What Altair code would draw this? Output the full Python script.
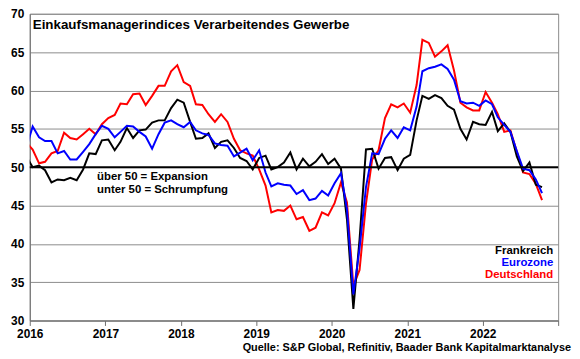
import altair as alt
import pandas as pd

# Monthly values, Dec 2015 .. Oct 2022 (83 months)
frankreich = [51.4,
    50.0, 50.2, 49.6, 48.0, 48.4, 48.3, 48.6, 48.3, 49.7, 51.8, 51.7, 53.5,
    53.6, 52.2, 53.3, 55.1, 53.8, 54.8, 54.9, 55.8, 56.1, 56.1, 57.7, 58.8,
    58.4, 55.9, 53.7, 53.8, 54.4, 52.5, 53.3, 53.5, 52.5, 51.2, 50.8, 49.7,
    51.2, 51.5, 49.7, 50.0, 50.6, 51.9, 49.7, 51.1, 50.1, 50.7, 51.7, 50.4,
    51.1, 49.8, 43.2, 31.5, 40.6, 52.3, 52.4, 49.8, 51.2, 51.3, 49.6, 51.1,
    51.6, 56.1, 59.3, 58.9, 59.4, 59.0, 58.0, 57.5, 55.0, 53.6, 55.9, 55.6,
    55.5, 57.2, 54.7, 55.7, 54.6, 51.4, 49.5, 50.6, 47.7, 47.4]

eurozone = [52.5,
    55.3, 53.9, 53.4, 53.4, 51.8, 52.1, 51.0, 51.0, 52.0, 53.0, 54.3, 55.4,
    55.0, 53.9, 54.6, 55.4, 55.3, 54.6, 54.0, 52.4, 54.3, 55.8, 56.1, 55.6,
    55.2, 55.9, 54.8, 54.4, 54.2, 53.1, 52.9, 52.8, 51.4, 51.9, 52.4, 50.9,
    52.2, 49.3, 47.5, 47.9, 47.7, 47.6, 46.5, 47.0, 45.7, 45.9, 46.9, 46.3,
    47.9, 49.2, 44.5, 33.4, 39.4, 47.4, 51.8, 51.7, 53.7, 54.8, 53.8, 55.2,
    54.8, 57.9, 62.5, 62.9, 63.1, 63.4, 62.8, 61.4, 58.6, 58.3, 58.4, 58.0,
    58.7, 58.2, 56.5, 55.5, 54.6, 52.1, 49.8, 49.6, 48.4, 46.6]

deutschland = [53.2,
    52.3, 50.5, 50.7, 51.8, 52.1, 54.5, 53.8, 53.6, 54.3, 55.0, 54.3, 55.6,
    56.4, 56.8, 58.3, 58.2, 59.5, 59.6, 58.1, 59.3, 60.6, 60.6, 62.5, 63.3,
    61.1, 60.6, 58.2, 58.1, 56.9, 55.9, 56.9, 55.9, 53.7, 52.2, 51.8, 51.5,
    49.7, 47.6, 44.1, 44.4, 44.3, 45.0, 43.2, 43.5, 41.7, 42.1, 44.1, 43.7,
    45.3, 48.0, 45.4, 34.5, 36.6, 45.2, 51.0, 52.2, 56.4, 58.2, 57.8, 58.3,
    57.1, 60.7, 66.6, 66.2, 64.4, 65.1, 65.9, 62.6, 58.4, 57.8, 57.4, 57.4,
    59.8, 58.4, 56.9, 54.6, 54.8, 52.0, 49.3, 49.1, 47.8, 45.7]

dates = ["2015-12-15"] + [f"{y}-{m:02d}-15" for y in range(2016, 2023) for m in range(1, 13)]
dates = dates[:len(frankreich)]

y_ticks = [30, 35, 40, 45, 50, 55, 60, 65, 70]
year_ticks = list(range(2016, 2024))
title_text = "Einkaufsmanagerindices Verarbeitendes Gewerbe"
note_lines = ["über 50 = Expansion", "unter 50 = Schrumpfung"]
legend_names = ["Frankreich", "Eurozone", "Deutschland"]
legend_colors = ["#000000", "#0000ff", "#ff0000"]
source_text = "Quelle: S&P Global, Refinitiv, Baader Bank Kapitalmarktanalyse"

FONT = "Liberation Sans"
W, H = 534, 310

y_scale = alt.Scale(domain=[30, 70], nice=False, zero=False)

x_enc = alt.X(
    "date:T",
    scale=alt.Scale(type="utc",
                    domain=[alt.DateTime(year=2016, month=1, date=1, utc=True),
                            alt.DateTime(year=2023, month=1, date=1, utc=True)]),
    axis=alt.Axis(
        title=None, grid=False,
        values=[alt.DateTime(year=y, month=1, date=1, utc=True) for y in year_ticks],
        labelExpr="utcFormat(datum.value, '%Y') == '2023' ? '' : utcFormat(datum.value, '%Y')",
        labelFont=FONT, labelFontWeight="bold", labelFontSize=12, labelColor="#000000",
        tickColor="#6e6e6e", tickSize=5, labelPadding=3,
        domainColor="#6e6e6e", labelFlush=False, labelOverlap=False,
    ),
)
y_enc = alt.Y(
    "value:Q",
    scale=y_scale,
    axis=alt.Axis(
        title=None, values=y_ticks, grid=True, gridColor="#8c8c8c", gridWidth=1,
        ticks=False, labelPadding=6, labelFont=FONT, labelFontWeight="bold",
        labelFontSize=12, labelColor="#000000", domainColor="#6e6e6e",
    ),
)

def series(vals, color):
    df = pd.DataFrame({"date": dates, "value": vals})
    return alt.Chart(df).mark_line(color=color, strokeWidth=2, clip=True).encode(x=x_enc, y=y_enc)

rule50 = alt.Chart(pd.DataFrame({"value": [50]})).mark_rule(color="#000000", strokeWidth=2).encode(y=y_enc)

def label(text, x, y, color="#000000", size=12, align="left"):
    return alt.Chart(pd.DataFrame({"t": [text]})).mark_text(
        font=FONT, fontWeight="bold", fontSize=size, color=color, align=align, baseline="middle"
    ).encode(x=alt.value(x), y=alt.value(y), text="t:N")

layers = [
    series(deutschland, legend_colors[2]),
    series(frankreich, legend_colors[0]),
    series(eurozone, legend_colors[1]),
    rule50,
    label(title_text, 3, 11, size=13.5),
    label(note_lines[0], 68, 165, size=11.5),
    label(note_lines[1], 68, 178, size=11.5),
    label(legend_names[0], 529, 240, legend_colors[0], 11.5, "right"),
    label(legend_names[1], 529, 252, legend_colors[1], 11.5, "right"),
    label(legend_names[2], 529, 264, legend_colors[2], 11.5, "right"),
    label(source_text, 547, 337.5, size=11, align="right"),
]

chart = alt.layer(*layers).properties(
    width=W, height=H,
    autosize=alt.AutoSizeParams(type="none"),
    padding={"left": 22, "top": 4, "right": 14, "bottom": 31},
    background="#ffffff",
).configure_view(stroke="#8c8c8c", strokeWidth=1)

chart.save("out.html", embed_options={"renderer": "svg", "actions": False})
